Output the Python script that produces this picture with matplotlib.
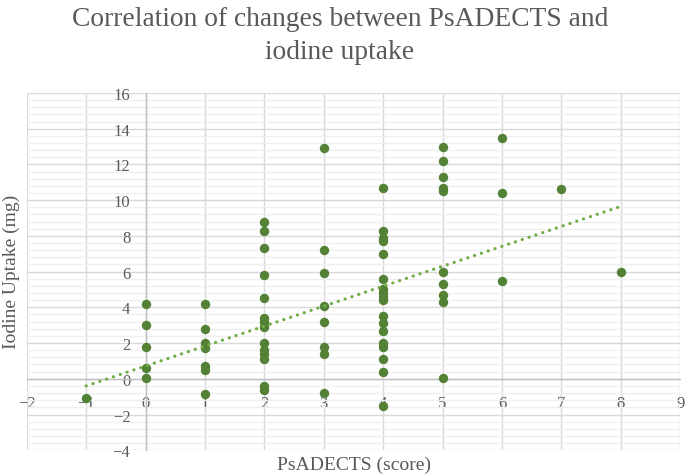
import numpy as np
import matplotlib
matplotlib.use("Agg")
import matplotlib.pyplot as plt
from matplotlib.ticker import MultipleLocator

# Data: PsADECTS score change (x) vs iodine uptake (y)
x_vals = [-1,
          0, 0, 0, 0, 0,
          1, 1, 1, 1, 1, 1, 1,
          2, 2, 2, 2, 2, 2, 2, 2, 2, 2, 2, 2, 2, 2,
          3, 3, 3, 3, 3, 3, 3, 3,
          4, 4, 4, 4, 4, 4, 4, 4, 4, 4, 4, 4, 4, 4, 4, 4, 4, 4,
          5, 5, 5, 5, 5, 5, 5, 5, 5, 5,
          6, 6, 6,
          7,
          8]
y_vals = [-1.1,
          4.2, 3.0, 1.8, 0.6, 0.05,
          4.2, 2.8, 2.0, 1.7, 0.7, 0.5, -0.85,
          8.8, 8.3, 7.3, 5.8, 4.5, 3.4, 3.2, 2.9, 2.0, 1.6, 1.4, 1.1, -0.4, -0.6,
          12.9, 7.2, 5.9, 4.1, 3.2, 1.8, 1.4, -0.8,
          10.7, 8.3, 7.9, 7.7, 7.0, 5.6, 5.0, 4.8, 4.6, 4.4, 3.5, 3.1, 2.7, 2.0, 1.8, 1.1, 0.4, -1.55,
          13.0, 12.2, 11.3, 10.7, 10.5, 6.0, 5.3, 4.7, 4.3, 0.05,
          13.5, 10.4, 5.5,
          10.6,
          6.0]

# Linear trendline as shown in the chart (endpoints)
trend_x = [-1, 8]
trend_y = [-0.4, 9.65]

title = "Correlation of changes between PsADECTS and\niodine uptake"
x_label = "PsADECTS (score)"
y_label = "Iodine Uptake (mg)"

txt = "#595959"
font = "Liberation Serif"

fig = plt.figure(figsize=(6.85, 4.77), dpi=100)
ax = fig.add_axes([0.039, 0.054, 0.954, 0.749])

ax.set_xlim(-2, 9)
ax.set_ylim(-4, 16)
ax.xaxis.set_major_locator(MultipleLocator(1))
ax.yaxis.set_major_locator(MultipleLocator(2))
ax.yaxis.set_minor_locator(MultipleLocator(0.4))

ax.grid(which="major", color="#d9d9d9", linewidth=1.0, zorder=0)
ax.grid(which="minor", axis="y", color="#efefef", linewidth=0.9, zorder=0)
ax.set_axisbelow(True)

for s in ["top", "right"]:
    ax.spines[s].set_visible(False)
ax.spines["left"].set_position(("data", 0))
ax.spines["bottom"].set_position(("data", 0))
for s in ["left", "bottom"]:
    ax.spines[s].set_color("#bfbfbf")
    ax.spines[s].set_linewidth(1.0)
    ax.spines[s].set_zorder(1)

ax.tick_params(which="both", length=0)
ax.tick_params(axis="x", pad=12, labelsize=12, labelcolor=txt)
ax.tick_params(axis="y", pad=11, labelsize=12, labelcolor=txt)
for lab in ax.get_xticklabels() + ax.get_yticklabels():
    lab.set_fontfamily(font)

ax.scatter(x_vals, y_vals, s=46, color="#538135", zorder=3, linewidths=0, clip_on=False)

ax.plot(trend_x, trend_y, color="#70ad47", linewidth=2.3,
        linestyle=(0, (0.05, 2.2)), dash_capstyle="round", zorder=4)

fig.text(0.496, 0.985, title, ha="center", va="top", fontsize=19.8,
         color=txt, family=font, linespacing=1.4)
fig.text(0.517, 0.025, x_label, ha="center", va="center", fontsize=14,
         color=txt, family=font)
fig.text(0.017, 0.43, y_label, ha="center", va="center", rotation=90,
         fontsize=14, color=txt, family=font)

fig.savefig("out.png", dpi=100)
